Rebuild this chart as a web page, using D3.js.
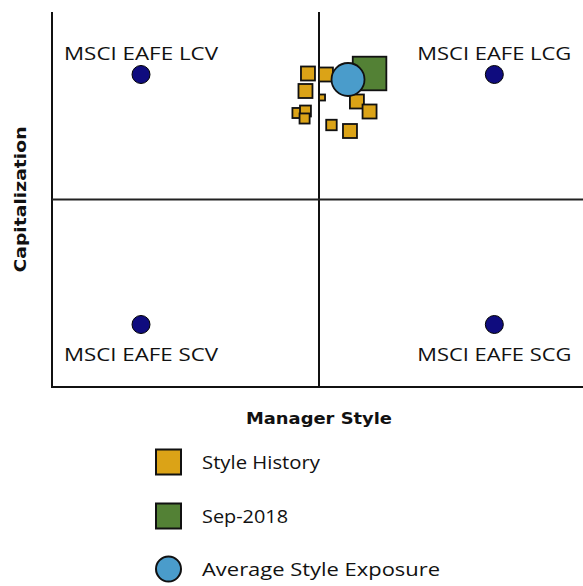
<!DOCTYPE html>
<html>
<head>
<meta charset="utf-8">
<script src="https://cdnjs.cloudflare.com/ajax/libs/d3/7.8.5/d3.min.js"></script>
<style>
  html, body { margin: 0; padding: 0; background: #fff; }
  svg { display: block; }
  text { font-family: "Century Gothic", "Open Sans", "DejaVu Sans", sans-serif; fill: #111; }
</style>
</head>
<body>
<svg id="chart" width="583" height="586"></svg>
<script>
// ---- data ----
const indexNames = ["MSCI EAFE LCV", "MSCI EAFE LCG", "MSCI EAFE SCV", "MSCI EAFE SCG"];
const indexX = [-1, 0.985, -1, 0.985];
const indexY = [1, 1, -1, -1];

const historyX = [-0.062, 0.039, -0.076, 0.017, 0.213, 0.284, -0.121, -0.076, -0.081, 0.070, 0.174];
const historyY = [1.008, 1.000, 0.868, 0.816, 0.784, 0.704, 0.692, 0.708, 0.648, 0.596, 0.548];
const historyWeight = [1.0, 1.0, 1.0, 0.43, 1.0, 1.0, 0.72, 0.78, 0.72, 0.75, 1.0];

const currentLabel = "Sep-2018";
const currentX = [0.284];
const currentY = [1.008];
const currentWeight = [2.4];

const averageX = [0.163];
const averageY = [0.960];

const legendLabels = ["Style History", "Sep-2018", "Average Style Exposure"];
const xTitle = "Manager Style";
const yTitle = "Capitalization";

// ---- layout ----
const svg = d3.select("#chart");
const mLeft = 52, mTop = 12, plotW = 534, plotH = 375;
const x = d3.scaleLinear().domain([-1.5, 1.5]).range([mLeft, mLeft + plotW]);
const y = d3.scaleLinear().domain([-1.5, 1.5]).range([mTop + plotH, mTop]);
const size = d3.scaleLinear().domain([0, 1]).range([0, 14]);

const gold = "#DBA317", green = "#538135", blue = "#4A9CCB", navy = "#0F0C7E";

// axes frame
svg.append("line").attr("x1", x(-1.5)).attr("x2", x(-1.5)).attr("y1", y(1.5)).attr("y2", y(-1.5))
  .attr("stroke", "#111").attr("stroke-width", 2);
svg.append("line").attr("x1", x(-1.5) - 1).attr("x2", x(1.5)).attr("y1", y(-1.5)).attr("y2", y(-1.5))
  .attr("stroke", "#111").attr("stroke-width", 2);
// quadrant dividers
svg.append("line").attr("x1", x(0)).attr("x2", x(0)).attr("y1", y(1.5)).attr("y2", y(-1.5))
  .attr("stroke", "#111").attr("stroke-width", 2);
svg.append("line").attr("x1", x(-1.5)).attr("x2", x(1.5)).attr("y1", y(0)).attr("y2", y(0))
  .attr("stroke", "#222").attr("stroke-width", 2);

// index points
const idx = indexNames.map((n, i) => ({ n, x: indexX[i], y: indexY[i] }));
svg.selectAll("circle.idx").data(idx).enter().append("circle")
  .attr("class", "idx")
  .attr("cx", d => x(d.x)).attr("cy", d => y(d.y)).attr("r", 9)
  .attr("fill", navy).attr("stroke", "#000").attr("stroke-width", 1);
svg.selectAll("text.idx").data(idx).enter().append("text")
  .attr("class", "idx")
  .attr("x", d => x(d.x))
  .attr("y", d => d.y > 0 ? y(d.y) - 15 : y(d.y) + 36)
  .attr("text-anchor", "middle")
  .attr("font-size", 17.5)
  .attr("textLength", 154).attr("lengthAdjust", "spacingAndGlyphs")
  .text(d => d.n);

// history squares
const hist = historyX.map((v, i) => ({ x: v, y: historyY[i], w: historyWeight[i] }));
svg.selectAll("rect.hist").data(hist).enter().append("rect")
  .attr("class", "hist")
  .attr("x", d => x(d.x) - size(d.w) / 2).attr("y", d => y(d.y) - size(d.w) / 2)
  .attr("width", d => size(d.w)).attr("height", d => size(d.w))
  .attr("fill", gold).attr("stroke", "#111").attr("stroke-width", 1.8);

// current
svg.selectAll("rect.cur").data(currentX.map((v, i) => ({ x: v, y: currentY[i], w: currentWeight[i] })))
  .enter().append("rect")
  .attr("class", "cur")
  .attr("x", d => x(d.x) - size(d.w) / 2).attr("y", d => y(d.y) - size(d.w) / 2)
  .attr("width", d => size(d.w)).attr("height", d => size(d.w))
  .attr("fill", green).attr("stroke", "#111").attr("stroke-width", 1.8);

// average
svg.selectAll("circle.avg").data(averageX.map((v, i) => ({ x: v, y: averageY[i] })))
  .enter().append("circle")
  .attr("class", "avg")
  .attr("cx", d => x(d.x)).attr("cy", d => y(d.y)).attr("r", 16.5)
  .attr("fill", blue).attr("stroke", "#111").attr("stroke-width", 1.8);

// axis titles
svg.append("text").attr("x", x(0)).attr("y", 424).attr("text-anchor", "middle")
  .attr("font-size", 15).attr("font-weight", "bold")
  .style("font-family", "'DejaVu Sans', sans-serif")
  .attr("textLength", 146).attr("lengthAdjust", "spacingAndGlyphs").text(xTitle);
svg.append("text").attr("transform", `translate(26,${y(0)}) rotate(-90)`).attr("text-anchor", "middle")
  .attr("font-size", 15).attr("font-weight", "bold")
  .style("font-family", "'DejaVu Sans', sans-serif")
  .attr("textLength", 146).attr("lengthAdjust", "spacingAndGlyphs").text(yTitle);

// legend
const legendY = [462, 516, 569];
const legendWidths = [118, 86, 238];
const legendFill = [gold, green, blue];
legendLabels.forEach((lab, i) => {
  const g = svg.append("g");
  if (i < 2) {
    g.append("rect").attr("x", 156).attr("y", legendY[i] - 12.5).attr("width", 25).attr("height", 25)
      .attr("fill", legendFill[i]).attr("stroke", "#111").attr("stroke-width", 2);
  } else {
    g.append("circle").attr("cx", 168.5).attr("cy", legendY[i]).attr("r", 12.5)
      .attr("fill", legendFill[i]).attr("stroke", "#111").attr("stroke-width", 2);
  }
  g.append("text").attr("x", 202).attr("y", legendY[i] + 6.5).attr("font-size", 17.5)
    .attr("textLength", legendWidths[i]).attr("lengthAdjust", "spacingAndGlyphs").text(lab);
});
</script>
</body>
</html>
